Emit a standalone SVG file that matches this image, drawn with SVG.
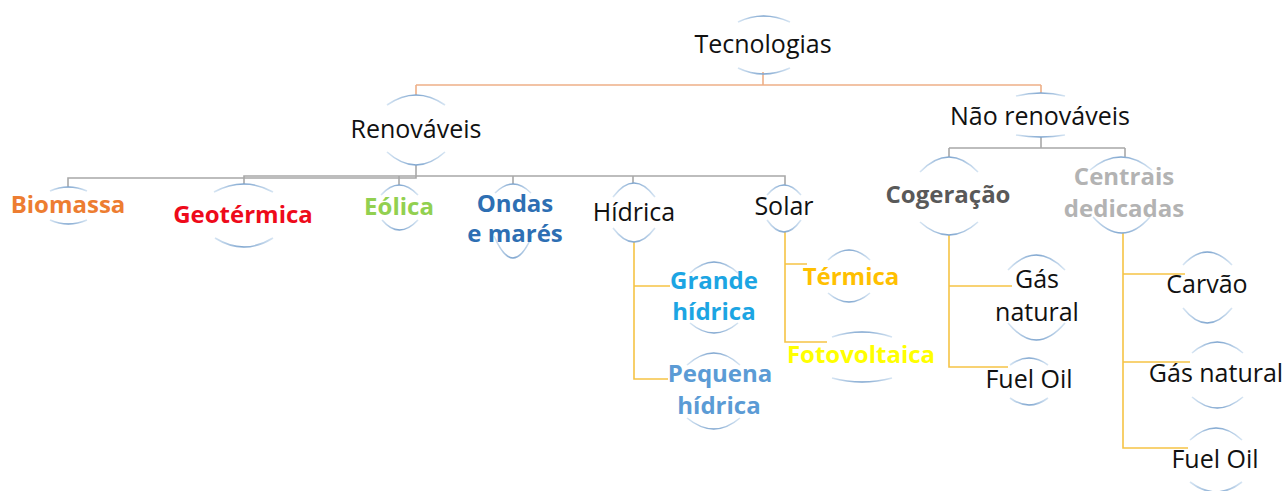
<svg xmlns="http://www.w3.org/2000/svg" width="1286" height="491" viewBox="0 0 1286 491">
<defs>
<linearGradient id="arcg" x1="0" y1="0" x2="1" y2="0">
<stop offset="0" stop-color="#d6e5f3"/>
<stop offset="0.5" stop-color="#7ea5cf"/>
<stop offset="1" stop-color="#d6e5f3"/>
</linearGradient>
<style>
.arc{fill:none;stroke:url(#arcg);stroke-width:1.6}
.t{font-family:"Open Sans","Liberation Sans",sans-serif;font-size:25px;fill:#111;text-anchor:middle}
.b{font-family:"Open Sans","Liberation Sans",sans-serif;font-size:24px;font-weight:bold;text-anchor:middle}
.co{fill:none;stroke:#eeb088;stroke-width:1.6}
.cg{fill:none;stroke:#a8a8a8;stroke-width:1.6}
.cy{fill:none;stroke:#f6c445;stroke-width:1.6}
</style>
</defs>
<rect width="1286" height="491" fill="#fff"/>
<g id="connectors">
<path class="co" d="M763,72 V85 M416,85 H1041 M416,85 V95 M1041,85 V93"/>
<path class="cg" d="M416,165 V176 H785 V185 M399,176 V185 M513,176 V184 M633,176 V183 M416,176 H244 V184 M416,176 V178 H68 V187"/>
<path class="cg" d="M1041,137 V148 M949,148 H1125 M949,148 V157 M1125,148 V157"/>
<path class="cy" d="M634,242 V379 H668 M634,286 H670"/>
<path class="cy" d="M785,232 V342 H827 M785,264 H807"/>
<path class="cy" d="M949,235 V367 H1008 M949,286 H1012"/>
<path class="cy" d="M1123,233 V448 H1188 M1123,274 H1185 M1123,362 H1190"/>
</g>
<g id="tecnologias">
<path class="arc" d="M738,22 Q763,10 790,22 M738,68 Q763,80 790,68"/>
<text class="t" x="763" y="53">Tecnologias</text>
</g>
<g id="renovaveis">
<path class="arc" d="M387,105 Q416,85 445,105 M387,152 Q416,178 445,152"/>
<text class="t" x="416" y="138">Renováveis</text>
</g>
<g id="nao-renovaveis">
<path class="arc" d="M1016,96 Q1041,90 1065,96 M1016,135 Q1041,139 1065,135"/>
<text class="t" x="1040" y="125">Não renováveis</text>
</g>
<g id="biomassa">
<path class="arc" d="M50,191 Q68,183 87,191 M50,220 Q68,228 87,220"/>
<text class="b" x="68" y="213" fill="#ed7d31">Biomassa</text>
</g>
<g id="geotermica">
<path class="arc" d="M214,192 Q244,176 273,192 M215,238 Q244,256 273,238"/>
<text class="b" x="243" y="223" fill="#ee0a1a">Geotérmica</text>
</g>
<g id="eolica">
<path class="arc" d="M381,195 Q399,175 418,195 M382,220 Q399,240 418,220"/>
<text class="b" x="399" y="215" fill="#92d050">Eólica</text>
</g>
<g id="ondas">
<path class="arc" d="M495,193 Q513,175 531,193 M494,236 Q513,280 532,236"/>
<text class="b" x="515" y="212" fill="#2e6fb3">Ondas</text>
<text class="b" x="515" y="242" fill="#2e6fb3">e marés</text>
</g>
<g id="hidrica">
<path class="arc" d="M613,197 Q634,169 655,197 M613,228 Q634,256 655,228"/>
<text class="t" x="634" y="221">Hídrica</text>
</g>
<g id="solar">
<path class="arc" d="M767,195 Q784,175 801,195 M767,220 Q784,244 801,220"/>
<text class="t" x="784" y="215">Solar</text>
</g>
<g id="grande-hidrica">
<path class="arc" d="M690,273 Q714,251 738,273 M690,323 Q714,343 738,323"/>
<text class="b" x="714" y="289" fill="#1ca5e3">Grande</text>
<text class="b" x="714" y="320" fill="#1ca5e3">hídrica</text>
</g>
<g id="pequena-hidrica">
<path class="arc" d="M687,365 Q714,341 740,365 M687,418 Q714,440 740,418"/>
<text class="b" x="720" y="382" fill="#5b9bd5">Pequena</text>
<text class="b" x="719" y="414" fill="#5b9bd5">hídrica</text>
</g>
<g id="termica">
<path class="arc" d="M828,260 Q849,240 870,260 M828,293 Q849,311 870,293"/>
<text class="b" x="851" y="285" fill="#ffc000">Térmica</text>
</g>
<g id="fotovoltaica">
<path class="arc" d="M832,337 Q862,327 892,337 M832,378 Q862,386 892,378"/>
<text class="b" x="861" y="363" fill="#ffff00">Fotovoltaica</text>
</g>
<g id="cogeracao">
<path class="arc" d="M920,172 Q949,142 978,172 M920,222 Q949,248 978,222"/>
<text class="b" x="948" y="203" fill="#595959">Cogeração</text>
</g>
<g id="centrais">
<path class="arc" d="M1090,170 Q1121,144 1152,170 M1093,217 Q1122,249 1150,217"/>
<text class="b" x="1124" y="185" fill="#b3b3b3">Centrais</text>
<text class="b" x="1124" y="217" fill="#b3b3b3">dedicadas</text>
</g>
<g id="gas-natural-cog">
<path class="arc" d="M1008,270 Q1036,240 1065,270 M1008,323 Q1036,357 1065,323"/>
<text class="t" x="1037" y="288">Gás</text>
<text class="t" x="1037" y="321">natural</text>
</g>
<g id="fuel-oil-cog">
<path class="arc" d="M1010,365 Q1029,351 1048,365 M1010,398 Q1029,412 1048,398"/>
<text class="t" x="1029" y="388">Fuel Oil</text>
</g>
<g id="carvao">
<path class="arc" d="M1183,265 Q1207,239 1232,265 M1183,308 Q1207,338 1232,308"/>
<text class="t" x="1207" y="293">Carvão</text>
</g>
<g id="gas-natural">
<path class="arc" d="M1192,353 Q1217,331 1243,353 M1192,397 Q1217,419 1243,397"/>
<text class="t" x="1216" y="382">Gás natural</text>
</g>
<g id="fuel-oil">
<path class="arc" d="M1190,440 Q1216,416 1242,440 M1190,482 Q1216,502 1242,482"/>
<text class="t" x="1215" y="468">Fuel Oil</text>
</g>
</svg>
